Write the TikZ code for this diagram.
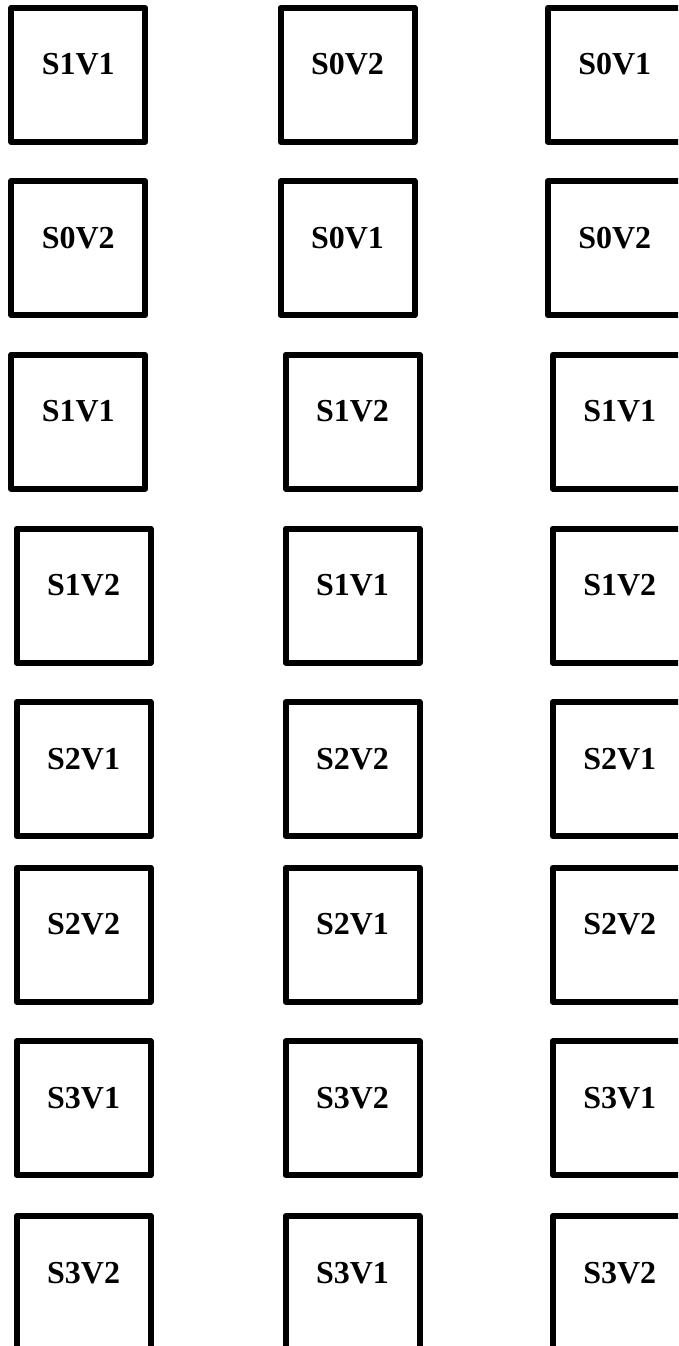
\documentclass[tikz,border=0pt]{standalone}
\usepackage{fontspec}
\setmainfont{Liberation Serif}

\tikzset{
  cell/.style={draw, line width=6pt, line join=round, inner sep=0pt,
    minimum width=134pt, minimum height=134pt,
    text height=22pt, text depth=22pt,
    font=\fontsize{32}{36}\selectfont\bfseries}
}

\begin{document}
\begin{tikzpicture}[x=1pt,y=-1pt]
  \useasboundingbox (0,0) rectangle (678,1346);
  \clip (0,0) rectangle (678,1346);

  % one row of three cells per entry: row, y, x of columns, labels
  \foreach \n/\y/\xa/\xb/\xc/\a/\b/\c in {
      1/74.8/78.3/347.5/614.7/S1V1/S0V2/S0V1,
      2/248.2/78.3/347.5/614.7/S0V2/S0V1/S0V2,
      3/421.7/78.3/352.5/619.7/S1V1/S1V2/S1V1,
      4/595.5/83.6/352.5/619.7/S1V2/S1V1/S1V2,
      5/769.2/83.6/352.5/619.7/S2V1/S2V2/S2V1,
      6/934.7/83.6/352.5/619.7/S2V2/S2V1/S2V2,
      7/1108.3/83.6/352.5/619.7/S3V1/S3V2/S3V1,
      8/1283/83.6/352.5/619.7/S3V2/S3V1/S3V2}
    {
      \node[cell] (r\n-1) at (\xa,\y) {\a};
      \node[cell] (r\n-2) at (\xb,\y) {\b};
      \node[cell] (r\n-3) at (\xc,\y) {\c};
    }
\end{tikzpicture}
\end{document}
